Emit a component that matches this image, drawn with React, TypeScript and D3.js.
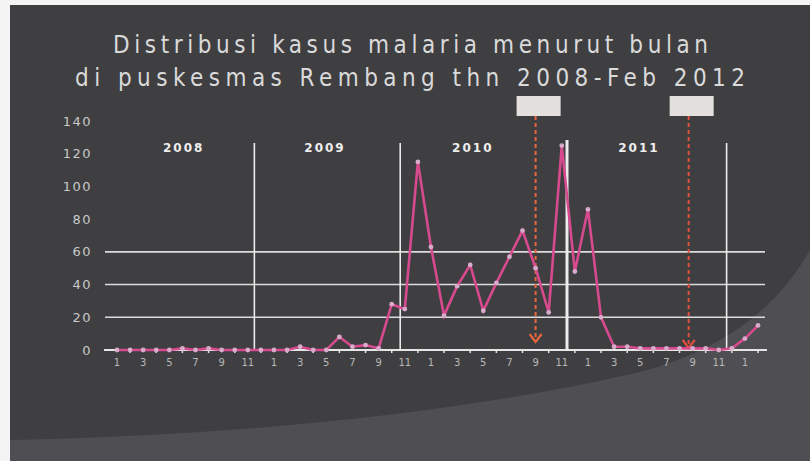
import React from "react";
import * as d3 from "d3";

const W = 810;
const H = 461;

const years = ["2008", "2009", "2010", "2011"];
const cases2008 = [0, 0, 0, 0, 0, 1, 0, 1, 0, 0, 0, 0];
const cases2009 = [0, 0, 2, 0, 0, 8, 2, 3, 1, 28, 25, 115];
const cases2010 = [63, 21, 39, 52, 24, 41, 57, 73, 50, 23, 125, 48];
const cases2011 = [86, 20, 2, 2, 1, 1, 1, 1, 1, 1, 0, 1];
const cases2012 = [7, 15];
const yTicks = [0, 20, 40, 60, 80, 100, 120, 140];
const gridValues = [20, 40, 60];
const monthLabels = ["1", "3", "5", "7", "9", "11"];
// year dividers drawn by hand, in month-index units
const dividers = [10.5, 21.65, 34.4, 46.6];
const yearLabelPos = [5.1, 15.9, 27.2, 39.9];
const arrowPos = [32, 43.7];
const titleLines = [
  "Distribusi kasus malaria menurut bulan",
  "di puskesmas Rembang thn 2008-Feb 2012",
];

const allCases = [...cases2008, ...cases2009, ...cases2010, ...cases2011, ...cases2012];

export default function App() {
  const x = d3.scaleLinear().domain([0, allCases.length - 1]).range([117, 758]);
  const y = d3.scaleLinear().domain([0, 140]).range([350, 121]);
  const line = d3
    .line<number>()
    .x((_, i) => x(i))
    .y((d) => y(d));

  const xLabels: { i: number; t: string }[] = [];
  years.forEach((_, yi) => {
    monthLabels.forEach((m) => xLabels.push({ i: yi * 12 + (+m - 1), t: m }));
  });
  xLabels.push({ i: 48, t: "1" });

  const font = "'Liberation Sans Narrow', 'DejaVu Sans Condensed', 'Liberation Sans', sans-serif";

  return (
    <svg
      width={W}
      height={H}
      style={{ position: "absolute", left: 0, top: 0, display: "block" }}
    >
      <rect x={0} y={0} width={W} height={H} fill="#f4f4f4" />
      <rect x={10} y={5} width={W - 10} height={H - 5} fill="#3f3f42" />
      <path
        d="M10,440 Q380,432 640,372 Q760,340 810,250 L810,461 L10,461 Z"
        fill="#4f4f53"
      />
      {/* title */}
      <text
        x={113}
        y={53}
        fill="#dadada"
        fontSize={24}
        fontFamily={font}
        textLength={595}
        lengthAdjust="spacing"
      >
        {titleLines[0]}
      </text>
      <text
        x={75}
        y={86}
        fill="#dadada"
        fontSize={24}
        fontFamily={font}
        textLength={670}
        lengthAdjust="spacing"
      >
        {titleLines[1]}
      </text>

      {/* y tick labels */}
      {yTicks.map((t) => (
        <text
          key={t}
          x={92}
          y={y(t)}
          dy="0.35em"
          textAnchor="end"
          fill="#c8c8c8"
          fontSize={13}
          letterSpacing={1.5}
          fontFamily="'DejaVu Sans', sans-serif"
        >
          {t}
        </text>
      ))}

      {/* grid lines */}
      {gridValues.map((g) => (
        <line
          key={g}
          x1={105}
          x2={765}
          y1={y(g)}
          y2={y(g)}
          stroke="#dcdcdc"
          strokeWidth={1.6}
        />
      ))}
      <line x1={104} x2={767} y1={y(0)} y2={y(0)} stroke="#e6e6e6" strokeWidth={1.8} />

      {/* year dividers */}
      {dividers.map((d, k) => (
        <line
          key={k}
          x1={x(d)}
          x2={x(d)}
          y1={k === 2 ? 140 : 143}
          y2={351}
          stroke="#ececec"
          strokeWidth={k === 2 ? 3 : 1.6}
        />
      ))}

      {/* year labels */}
      {years.map((yr, k) => (
        <text
          key={yr}
          x={x(yearLabelPos[k])}
          y={152}
          textAnchor="middle"
          fill="#eeeeee"
          fontSize={12}
          fontWeight="bold"
          letterSpacing={2}
          fontFamily="'DejaVu Sans', sans-serif"
        >
          {yr}
        </text>
      ))}

      {/* x tick labels */}
      {xLabels.map((l, k) => (
        <text
          key={k}
          x={x(l.i)}
          y={366}
          textAnchor="middle"
          fill="#b8b8b8"
          fontSize={10}
          fontFamily="'DejaVu Sans', sans-serif"
        >
          {l.t}
        </text>
      ))}
      {xLabels.map((l, k) => (
        <line
          key={"t" + k}
          x1={x(l.i + 1)}
          x2={x(l.i + 1)}
          y1={y(0)}
          y2={y(0) + 3}
          stroke="#e6e6e6"
          strokeWidth={1.5}
        />
      ))}

      {/* boxes and arrows */}
      {arrowPos.map((a, k) => {
        const ax = x(a);
        const yEnd = k === 0 ? 342 : 348;
        const col = k === 0 ? "#e8663e" : "#e0503e";
        return (
          <g key={k}>
            <rect x={ax - 19} y={96} width={44} height={20} fill="#e4e0de" />
            <line
              x1={ax}
              x2={ax}
              y1={116}
              y2={yEnd}
              stroke={col}
              strokeWidth={2}
              strokeDasharray="4,3"
            />
            <path
              d={`M${ax - 6},${yEnd - 8} L${ax},${yEnd} L${ax + 6},${yEnd - 8}`}
              fill="none"
              stroke={col}
              strokeWidth={2.2}
            />
          </g>
        );
      })}

      {/* series */}
      <path d={line(allCases) || ""} fill="none" stroke="#d84a8e" strokeWidth={2.6} />
      {allCases.map((v, i) => (
        <circle key={i} cx={x(i)} cy={y(v)} r={2.4} fill="#d8aacb" />
      ))}
    </svg>
  );
}
